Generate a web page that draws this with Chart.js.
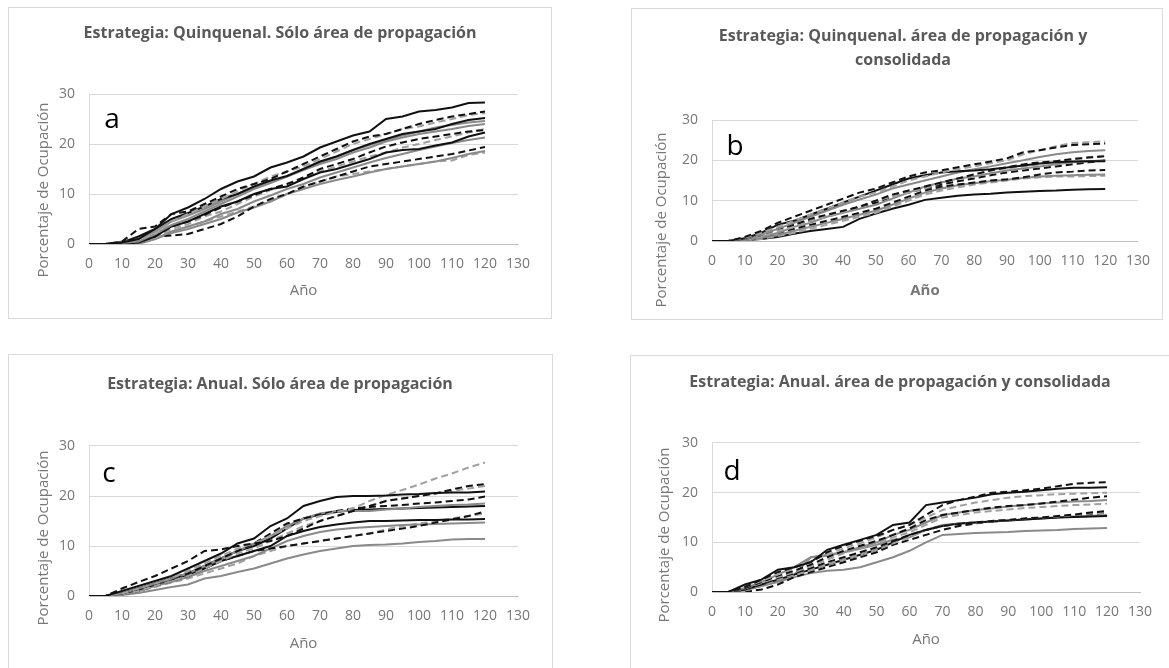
<!DOCTYPE html>
<html lang="es">
<head>
<meta charset="utf-8">
<title>Porcentaje de Ocupación</title>
<script src="https://cdn.jsdelivr.net/npm/chart.js@4.4.1/dist/chart.umd.min.js"></script>
<style>
  html, body { margin: 0; padding: 0; background: #fff; }
  body { width: 1169px; height: 668px; position: relative; overflow: hidden; }
  .panel { position: absolute; border: 1px solid #d9d9d9; }
  .panel canvas { display: block; }
</style>
</head>
<body>
<div class="panel" style="left:8px;top:7px;"><canvas id="chartA" width="542" height="310"></canvas></div>
<div class="panel" style="left:631px;top:8px;"><canvas id="chartB" width="530" height="310"></canvas></div>
<div class="panel" style="left:8px;top:354px;"><canvas id="chartC" width="543" height="320"></canvas></div>
<div class="panel" style="left:630px;top:355px;"><canvas id="chartD" width="538" height="320"></canvas></div>
<script>
// Año (every 5 years)
const years = [0, 5, 10, 15, 20, 25, 30, 35, 40, 45, 50, 55, 60, 65, 70, 75, 80, 85, 90, 95, 100, 105, 110, 115, 120];

// a: Quinquenal, sólo área de propagación
const seriesA = [
  [0, 0, 0.3, 1, 3, 6, 7.3, 9, 11, 12.5, 13.5, 15.3, 16.3, 17.5, 19.3, 20.5, 21.7, 22.5, 25, 25.5, 26.5, 26.8, 27.3, 28.2, 28.3],
  [0, 0, 0.5, 3, 3.5, 6, 6.5, 8, 9.5, 11, 12, 13, 14.5, 16, 17.5, 19, 20.5, 21.5, 22, 23, 24, 24.8, 25.5, 26, 26.5],
  [0, 0, 0.3, 1, 2, 4.5, 6, 7.5, 9, 10.5, 12, 13.5, 14.5, 15.5, 17, 18.5, 20, 21, 22, 23, 23.5, 24.3, 25, 25.8, 26.2],
  [0, 0, 0.3, 1.5, 3, 5, 6.2, 7.5, 9, 10, 11.5, 12.7, 13.6, 15, 16.5, 17.5, 18.8, 20, 21, 22, 22.5, 23, 24, 24.8, 25.2],
  [0, 0, 0.5, 1, 2.5, 4.5, 5.7, 7, 8.5, 10, 11.3, 12.5, 13.5, 15, 16.3, 17.5, 18.8, 19.8, 20.8, 21.7, 22.5, 23.3, 23.8, 24.3, 24.6],
  [0, 0, 0.2, 0.5, 2, 3.8, 5, 6.5, 8, 9.5, 11, 12.2, 13.5, 14.8, 16, 17, 18.3, 19.3, 20.5, 21.3, 22, 22.5, 23, 23.6, 24],
  [0, 0, 0, 0.5, 1.5, 3.5, 4.5, 5.8, 7.3, 8.5, 9.8, 11, 12, 13.3, 15, 16, 17, 18.3, 19.5, 20.3, 21, 21.5, 22, 22.5, 22.8],
  [0, 0, 0, 0.3, 1.5, 3.5, 4.5, 6, 7.5, 8.5, 10, 11, 11.5, 13, 14.3, 15, 16, 17, 18.3, 18.8, 19, 19.7, 20.3, 21.5, 22.3],
  [0, 0, 0.2, 0.5, 1.2, 3, 4, 5.5, 6.5, 8, 9.5, 10.8, 12, 13.3, 14.5, 15.5, 16.5, 17.5, 18.3, 19.3, 20, 20.8, 21.5, 22.3, 23],
  [0, 0, 0, 0.2, 1, 2.5, 3.5, 4.5, 6, 7, 8.5, 9.7, 11, 12, 13.3, 14.3, 15.3, 16.3, 17.2, 18, 18.8, 19.5, 20.2, 20.8, 21.3],
  [0, 0, 0, 0, 1.5, 1.7, 2, 3, 4, 5.5, 7.5, 9, 10, 11.5, 12.5, 13.5, 14.5, 15.5, 16, 16.5, 17, 17.5, 18, 18.7, 19.4],
  [0, 0, 0, 0, 1, 2.2, 3, 4, 5, 6.3, 7.3, 8.5, 10, 11, 12, 12.8, 13.5, 14.3, 15, 15.5, 16, 16.5, 17.2, 18, 18.6],
  [0, 0, 0, 0, 1, 2.5, 3.5, 4.5, 5.5, 6.5, 7.5, 8.5, 10, 11.3, 12.5, 13.5, 14, 14.5, 15, 15.5, 16, 16.5, 16.7, 17.8, 18.3]
];
const stylesA = ['k-', 'k--', 'g--', 'k-', 'g-', 'g-', 'k--', 'k-', 'g--', 'g-', 'k--', 'g-', 'g--'];

// b: Quinquenal, área de propagación y consolidada
const seriesB = [
  [0, 0, 1, 2.5, 4.5, 6, 7.5, 9, 10.5, 12, 13, 14.5, 16, 17, 17.5, 18.3, 19, 19.7, 20.5, 22, 22.5, 23.2, 23.8, 24, 24.2],
  [0, 0, 0.8, 2, 3.5, 5, 6.5, 8, 9.5, 11, 12, 13.5, 15, 16, 17, 17.8, 18.5, 19.3, 20, 21.5, 22.5, 23.5, 24.3, 24.5, 24.7],
  [0, 0, 0.7, 2, 4, 5, 6.5, 8, 9.5, 11, 12.5, 14, 15.5, 16.3, 17, 17.3, 17.5, 17.8, 18.2, 18.7, 19.2, 19.5, 19.7, 19.8, 19.8],
  [0, 0, 0.5, 1.5, 3, 4.5, 6, 7.5, 9, 10.3, 11.5, 13, 14, 15, 16, 17, 17.8, 18.5, 19.3, 20, 20.8, 21.5, 22, 22.3, 22.5],
  [0, 0, 0.5, 1.5, 3, 4, 5.5, 6.5, 7.5, 8.5, 10, 11.5, 12.5, 13.5, 14.5, 15.5, 16.5, 17.5, 18.3, 19, 19.5, 19.8, 20.3, 20.7, 21],
  [0, 0, 0.3, 1, 2.5, 3.5, 5, 6, 7, 8.5, 10, 11, 12, 13, 14.5, 15.5, 16.5, 17.5, 18, 18.5, 19, 19.8, 20.3, 20.8, 21.2],
  [0, 0, 0.3, 1, 2, 3.5, 4.5, 6, 7, 8, 9, 10.5, 12, 13.5, 14.5, 15.5, 16, 16.8, 17.5, 18, 18.5, 19, 19.5, 19.8, 20],
  [0, 0, 0.3, 1, 2, 3, 4, 5, 6, 7, 8, 9.5, 11, 12.5, 13.5, 14, 14.5, 15, 15.3, 15.8, 16.5, 17, 17.2, 17.5, 17.6],
  [0, 0, 0.2, 0.8, 1.5, 2.5, 3.5, 4.5, 5.5, 6.5, 7.5, 9, 10.5, 12, 13, 13.8, 14.3, 14.8, 15.2, 15.6, 16, 16.2, 16.3, 16.4, 16.5],
  [0, 0, 0.2, 0.5, 1.2, 2, 3, 4, 5, 6, 7, 8.5, 10, 11.5, 12.5, 13.3, 14, 14.5, 15, 15.5, 15.8, 16, 16, 16.1, 16.2],
  [0, 0, 0.2, 0.5, 1, 1.8, 2.5, 3, 3.5, 5.5, 6.8, 8, 9, 10.2, 10.7, 11.2, 11.5, 11.7, 12, 12.2, 12.4, 12.5, 12.7, 12.8, 12.9],
  [0, 0, 0.5, 1.5, 3, 4, 5, 6, 7.3, 8.5, 9.5, 11, 12, 13, 14, 14.8, 15.5, 16.3, 17, 17.5, 18, 18.5, 19, 19.5, 20]
];
const stylesB = ['k--', 'g--', 'k-', 'g-', 'k--', 'g--', 'g-', 'k--', 'g-', 'g--', 'k-', 'k--'];

// c: Anual, sólo área de propagación
const seriesC = [
  [0, 0, 1, 2, 3, 4, 5.5, 7, 8.5, 10.5, 11.5, 14, 15.5, 18, 19, 19.8, 20, 20, 20.1, 20.3, 20.4, 20.6, 20.7, 20.7, 20.9],
  [0, 0, 1.5, 2.8, 4, 5.5, 7, 9, 9.3, 10, 10.5, 11, 12, 13.5, 15, 16, 17, 18, 19, 19.5, 20, 20.5, 21.3, 22, 22.4],
  [0, 0, 0.5, 1.5, 2.5, 3.5, 5, 6.5, 8, 9.5, 10.5, 12, 13.5, 15, 16, 16.8, 17.5, 19, 20.2, 21.2, 22.3, 23.5, 24.5, 25.7, 26.7],
  [0, 0, 0.5, 1.5, 2.5, 3.5, 4.5, 6, 7.5, 9, 10.5, 12.5, 14.5, 15.5, 16.3, 17, 17.5, 17.8, 18, 18.2, 18.5, 18.7, 19, 19.3, 19.9],
  [0, 0, 0.5, 1.5, 2.5, 3.5, 4.5, 6, 7.5, 9, 10.5, 12, 14, 15.5, 16.5, 17, 17, 17, 17.3, 17.5, 17.8, 18, 18.2, 18.3, 18.5],
  [0, 0, 0.5, 1.5, 2.5, 3.5, 4.5, 6, 7.5, 9, 10, 11.5, 13.5, 15.5, 16.3, 16.8, 17.2, 17.3, 17.4, 17.5, 17.6, 17.7, 17.8, 17.9, 18],
  [0, 0, 0.3, 1, 2, 3, 4, 5.5, 7, 8.5, 9.5, 11, 12.5, 14, 15, 16, 17, 18, 19, 19.5, 20, 20.5, 21, 21.5, 22],
  [0, 0, 0.3, 1, 2, 3, 4, 5.5, 7, 8, 9, 9.5, 10, 10.5, 11, 11.5, 12, 12.5, 13, 13.5, 14, 14.7, 15.3, 16, 16.9],
  [0, 0, 0.5, 1.3, 2.3, 3.3, 4.3, 5.5, 7, 8, 9, 10, 12, 13, 13.8, 14.3, 14.7, 15, 15, 15.1, 15.2, 15.2, 15.3, 15.3, 15.4],
  [0, 0, 0.3, 1, 2, 2.8, 3.8, 5, 6, 7, 8, 9.5, 11, 12, 12.8, 13.3, 13.6, 13.8, 14, 14.2, 14.3, 14.4, 14.5, 14.6, 14.7],
  [0, 0, 0.3, 1, 1.8, 2.7, 3.5, 4.5, 5.5, 6.5, 8, 9, 10, 10.5, 11, 11.5, 12, 12.5, 13.3, 14, 14.5, 15, 15.5, 16, 16.5],
  [0, 0, 0.2, 0.6, 1.2, 1.8, 2.3, 3.5, 4, 4.8, 5.5, 6.5, 7.5, 8.3, 9, 9.5, 10, 10.2, 10.3, 10.5, 10.8, 11, 11.3, 11.4, 11.4]
];
const stylesC = ['k-', 'k--', 'g--', 'k--', 'g-', 'k-', 'g--', 'k--', 'k-', 'g-', 'g--', 'g-'];

// d: Anual, área de propagación y consolidada
const seriesD = [
  [0, 0, 1.5, 2.5, 4.5, 5, 6, 8.5, 9.5, 10.5, 11.5, 13.5, 14, 17.5, 18, 18.5, 19, 19.7, 20, 20.2, 20.5, 20.8, 21, 21, 21.1],
  [0, 0, 1, 2.5, 4, 5, 6, 8, 9.3, 10.3, 11.3, 12.5, 13.5, 15.5, 17.5, 18.5, 19.2, 20, 20.2, 20.5, 20.8, 21.3, 21.8, 22, 22.1],
  [0, 0, 1, 2.2, 3.5, 4.8, 6.2, 7.5, 8.8, 9.8, 11, 12.5, 13.5, 15, 16.5, 17.3, 18, 18.5, 19, 19.3, 19.5, 19.7, 19.8, 19.9, 20],
  [0, 0, 0.8, 2, 3.3, 4.3, 5.5, 7, 8.3, 9.3, 10.3, 11.5, 12.8, 14.5, 15.5, 16, 16.5, 17, 17.3, 17.5, 17.8, 18.2, 18.6, 19, 19.3],
  [0, 0, 0.8, 2, 3.5, 5, 7, 7.5, 8, 9, 10, 11.5, 12.5, 14, 15.5, 16, 16.5, 16.8, 17.2, 17.5, 17.8, 18, 18.2, 18.3, 18.5],
  [0, 0, 0.7, 1.8, 3, 4, 5.2, 6.5, 7.8, 8.8, 9.8, 11, 12, 13.5, 15, 15.5, 16, 16.3, 16.6, 16.9, 17.1, 17.3, 17.5, 17.6, 17.8],
  [0, 0, 0.5, 1.5, 2.8, 3.8, 4.8, 6, 7, 8, 9, 10.3, 11.5, 12.5, 13.3, 13.7, 14, 14.3, 14.5, 14.8, 15, 15.3, 15.6, 16, 16.3],
  [0, 0, 0.5, 1.3, 2.5, 3.5, 4.5, 5.5, 6.5, 7.5, 8.5, 9.8, 11, 12.5, 13.3, 13.8, 14, 14.3, 14.5, 14.8, 15, 15.2, 15.5, 15.8, 16],
  [0, 0, 0.5, 1.5, 2.5, 3.5, 4.5, 5.5, 6.5, 7.5, 8.5, 10, 11.5, 12.5, 13.3, 13.8, 14, 14.2, 14.4, 14.6, 14.8, 15, 15.1, 15.2, 15.3],
  [0, 0, 0.3, 1.2, 2.2, 3.5, 7, 7.3, 8, 8.7, 9.5, 10.5, 11, 12.5, 13.5, 13.8, 14, 14.2, 14.4, 14.6, 14.8, 15, 15.2, 15.3, 15.5],
  [0, 0, 0, 0.5, 1.5, 3, 4, 5, 6, 7, 8, 9.5, 10.5, 11.5, 12.5, 13.3, 13.8, 14.2, 14.5, 14.7, 14.9, 15.1, 15.3, 15.6, 16],
  [0, 0, 0.5, 1.2, 2, 3, 3.8, 4.3, 4.5, 5, 6, 7, 8.3, 10, 11.5, 11.7, 11.9, 12, 12.1, 12.3, 12.4, 12.5, 12.7, 12.8, 12.9]
];
const stylesD = ['k-', 'k--', 'g--', 'k--', 'g-', 'g--', 'k--', 'g--', 'k-', 'g-', 'k--', 'g-'];

const lineStyles = {
  'k-':  { color: '#111111', dash: [] },
  'k--': { color: '#111111', dash: [7, 4] },
  'g-':  { color: '#8a8a8a', dash: [] },
  'g--': { color: '#a0a0a0', dash: [7, 4] }
};

const textGray = '#777777';
Chart.defaults.font.family = '"Open Sans", sans-serif';

// rotated y title and the panel letter
function panelText(p) {
  return {
    id: 'panelText',
    afterDraw(chart) {
      const ctx = chart.ctx;
      ctx.save();
      ctx.fillStyle = textGray;
      ctx.font = '15px "Open Sans"';
      ctx.textAlign = 'center';
      ctx.textBaseline = 'middle';
      ctx.translate(p.yTitle[0], p.yTitle[1]);
      ctx.rotate(-Math.PI / 2);
      ctx.fillText('Porcentaje de Ocupación', 0, 0);
      ctx.restore();

      ctx.save();
      ctx.fillStyle = '#000';
      ctx.font = '28px "Open Sans"';
      ctx.textAlign = 'center';
      ctx.textBaseline = 'alphabetic';
      ctx.fillText(p.letter, p.letterPos[0], p.letterPos[1]);
      ctx.restore();
    }
  };
}

function buildChart(id, p) {
  const canvas = document.getElementById(id);
  const W = canvas.width, H = canvas.height;
  const padRight = W - p.area.right;
  const padLeft = 2 * p.titleX - p.area.right;
  const lines = Array.isArray(p.title) ? p.title.length : 1;
  const titleBottom = p.area.top - p.titleTop - lines * p.titleLine;

  const datasets = p.series.map((vals, i) => {
    const st = lineStyles[p.styles[i]];
    return {
      data: vals.map((v, j) => ({ x: years[j], y: v })),
      borderColor: st.color,
      borderDash: st.dash,
      borderWidth: 2,
      pointRadius: 0,
      fill: false,
      tension: 0
    };
  });

  return new Chart(canvas, {
    type: 'line',
    data: { datasets: datasets },
    options: {
      responsive: false,
      animation: false,
      layout: { padding: { left: padLeft, right: padRight, top: 0, bottom: 0 } },
      plugins: {
        legend: { display: false },
        tooltip: { enabled: false },
        title: {
          display: true,
          text: p.title,
          color: '#595959',
          font: { size: 16, weight: 'bold', lineHeight: p.titleLine / 16 },
          padding: { top: p.titleTop, bottom: titleBottom }
        }
      },
      scales: {
        x: {
          type: 'linear',
          min: 0,
          max: 130,
          grid: { display: false, drawTicks: false },
          border: { display: true, color: '#bfbfbf', width: 1 },
          ticks: { stepSize: 10, autoSkip: false, maxRotation: 0, padding: 12, color: textGray, font: { size: 14 } },
          title: {
            display: true,
            text: 'Año',
            color: textGray,
            font: { size: 15, weight: p.boldYear ? 'bold' : 'normal' },
            padding: { top: 0, bottom: p.yearPad }
          },
          afterFit(scale) { scale.height = H - p.area.bottom; }
        },
        y: {
          min: 0,
          max: 30,
          grid: { color: '#d9d9d9', drawTicks: false },
          border: { display: true, color: '#d9d9d9', width: 1 },
          ticks: { stepSize: 10, padding: 14, color: textGray, font: { size: 14 } },
          afterFit(scale) { scale.width = p.area.left - padLeft; }
        }
      }
    },
    plugins: [panelText(p)]
  });
}

buildChart('chartA', {
  series: seriesA, styles: stylesA,
  title: 'Estrategia: Quinquenal. Sólo área de propagación',
  titleX: 271, titleTop: 15.4, titleLine: 19.2,
  area: { left: 80, right: 509, top: 86, bottom: 236 },
  yearPad: 18, boldYear: false,
  yTitle: [35, 182], letter: 'a', letterPos: [103, 120]
});

buildChart('chartB', {
  series: seriesB, styles: stylesB,
  title: ['Estrategia: Quinquenal. área de propagación y', 'consolidada'],
  titleX: 271, titleTop: 15, titleLine: 24,
  area: { left: 80, right: 509, top: 111, bottom: 232 },
  yearPad: 19, boldYear: true,
  yTitle: [30, 211], letter: 'b', letterPos: [103, 146]
});

buildChart('chartC', {
  series: seriesC, styles: stylesC,
  title: 'Estrategia: Anual. Sólo área de propagación',
  titleX: 271, titleTop: 19.4, titleLine: 19.2,
  area: { left: 80, right: 509, top: 91, bottom: 241 },
  yearPad: 22, boldYear: false,
  yTitle: [35, 183], letter: 'c', letterPos: [100, 127]
});

buildChart('chartD', {
  series: seriesD, styles: stylesD,
  title: 'Estrategia: Anual. área de propagación y consolidada',
  titleX: 269, titleTop: 16.4, titleLine: 19.2,
  area: { left: 81, right: 509, top: 87, bottom: 236 },
  yearPad: 27, boldYear: false,
  yTitle: [34, 179], letter: 'd', letterPos: [101, 124]
});
</script>
</body>
</html>
